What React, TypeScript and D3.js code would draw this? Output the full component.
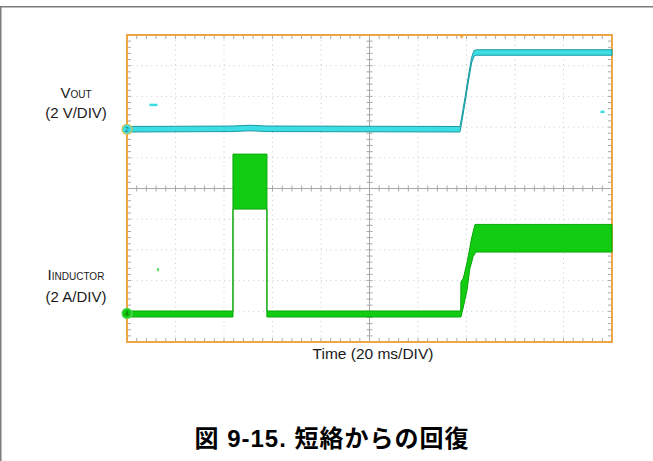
import React from "react";
import * as d3 from "d3";

// Oscilloscope capture: output voltage and inductor current recovering from a short
const W = 653;
const H = 461;

// Time base: 10 divisions of 20 ms
const timeSpanMs = [0, 200];
const divisionsX = 10;
const divisionsY = 10;

// Channel 2: VOUT (2 V/DIV), centre of the trace and ripple half-width
const voutTime = [0, 43.7, 50.7, 57.7, 137.3, 138.0, 139.4, 140.7, 142.1, 143.1, 144.2, 200];
const voutVolts = [0, 0.03, 0.08, 0.03, 0, 0.6, 1.9, 3.2, 4.5, 4.95, 5.0, 5.0];
const voutRipple = 0.18;
const voutVoltsPerDiv = 2;
const voutGroundDiv = 6.93;

// Channel 4: inductor current (2 A/DIV), lower and upper envelope
const iTime = [0, 43.7, 43.7, 57.7, 57.7, 137.6, 137.7, 138.7, 140.2, 141.4, 141.9, 142.7, 143.5, 144.0, 200];
const iLow = [-0.23, -0.23, 6.8, 6.8, -0.23, -0.23, -0.23, 0.42, 1.5, 2.95, 3.2, 3.7, 3.9, 4.0, 4.0];
const iHigh = [0.16, 0.16, 10.38, 10.38, 0.16, 0.16, 2.05, 2.3, 3.3, 4.3, 4.75, 5.3, 5.8, 5.8, 5.8];
const iAmpsPerDiv = 2;
const iGroundDiv = 0.93;

// Stray display dots left on screen by the scope: [time ms, volts / amps]
const voutSpecks = [[10.5, 1.6], [196.5, 1.15]];
const iSpecks = [[12.8, 2.85]];

const triggerMs = 138;

const timeLabel = "Time (20 ms/DIV)";
const titleText = "図 9-15. 短絡からの回復";

const plot = { left: 127, right: 612, top: 35, bottom: 342 };

const CYAN = "#3cdde4";
const CYAN_EDGE = "#1a9aa3";
const GREEN = "#12cc12";
const GREEN_EDGE = "#07a707";
const ORANGE = "#eda545";

export default function App() {
  const x = d3.scaleLinear().domain(timeSpanMs).range([plot.left, plot.right]);
  const xDiv = d3.scaleLinear().domain([0, divisionsX]).range([plot.left, plot.right]);
  const yDiv = d3.scaleLinear().domain([0, divisionsY]).range([plot.bottom, plot.top]);
  const yV = (v: number) => yDiv(voutGroundDiv + v / voutVoltsPerDiv);
  const yI = (a: number) => yDiv(iGroundDiv + a / iAmpsPerDiv);

  const voutArea = d3
    .area<number>()
    .x((i) => x(voutTime[i]))
    .y0((i) => yV(voutVolts[i] - voutRipple))
    .y1((i) => yV(voutVolts[i] + voutRipple))(d3.range(voutTime.length)) as string;

  const iArea = d3
    .area<number>()
    .x((i) => x(iTime[i]))
    .y0((i) => yI(iLow[i]))
    .y1((i) => yI(iHigh[i]))(d3.range(iTime.length)) as string;

  const majorX = d3.range(1, divisionsX).filter((d) => d !== divisionsX / 2);
  const majorY = d3.range(1, divisionsY).filter((d) => d !== divisionsY / 2);
  const minorX = d3.range(1, divisionsX * 5).map((d) => d / 5);
  const minorY = d3.range(1, divisionsY * 5).map((d) => d / 5);
  const cx = xDiv(divisionsX / 2);
  const cy = yDiv(divisionsY / 2);

  const font = "'Liberation Sans', Arial, sans-serif";

  return (
    <div style={{ position: "fixed", left: 0, top: 0 }}>
      <svg width={W} height={H} viewBox={`0 0 ${W} ${H}`} style={{ display: "block", background: "#fff" }}>
        {/* page frame */}
        <rect x={0.75} y={6.75} width={W + 10} height={H + 10} fill="none" stroke="#7d7d7d" strokeWidth={1.5} />

        {/* dotted division grid */}
        <g stroke="#cacaca" strokeWidth={1} strokeDasharray="1 3.85">
          {majorX.map((d) => (
            <line key={`gx${d}`} x1={xDiv(d)} x2={xDiv(d)} y1={plot.top} y2={plot.bottom} />
          ))}
          {majorY.map((d) => (
            <line key={`gy${d}`} y1={yDiv(d)} y2={yDiv(d)} x1={plot.left} x2={plot.right} />
          ))}
        </g>

        {/* centre axes with minor ticks */}
        <g stroke="#a8a8a8" strokeWidth={1}>
          <line x1={cx} x2={cx} y1={plot.top} y2={plot.bottom} />
          <line y1={cy} y2={cy} x1={plot.left} x2={plot.right} />
          {minorX.map((d) => (
            <line key={`tcx${d}`} x1={xDiv(d)} x2={xDiv(d)} y1={cy - 3} y2={cy + 3} />
          ))}
          {minorY.map((d) => (
            <line key={`tcy${d}`} y1={yDiv(d)} y2={yDiv(d)} x1={cx - 3} x2={cx + 3} />
          ))}
          {minorX.map((d) => (
            <line key={`ttb${d}`} x1={xDiv(d)} x2={xDiv(d)} y1={plot.top} y2={plot.top + 4} />
          ))}
          {minorX.map((d) => (
            <line key={`tbb${d}`} x1={xDiv(d)} x2={xDiv(d)} y1={plot.bottom - 4} y2={plot.bottom} />
          ))}
          {minorY.map((d) => (
            <line key={`tlb${d}`} y1={yDiv(d)} y2={yDiv(d)} x1={plot.left} x2={plot.left + 4} />
          ))}
          {minorY.map((d) => (
            <line key={`trb${d}`} y1={yDiv(d)} y2={yDiv(d)} x1={plot.right - 4} x2={plot.right} />
          ))}
        </g>

        {/* graticule border */}
        <rect
          x={plot.left}
          y={plot.top}
          width={plot.right - plot.left}
          height={plot.bottom - plot.top}
          fill="none"
          stroke={ORANGE}
          strokeWidth={2}
        />

        {/* traces */}
        <path d={iArea} fill={GREEN} stroke={GREEN_EDGE} strokeWidth={1} strokeLinejoin="round" />
        <path d={voutArea} fill={CYAN} stroke={CYAN_EDGE} strokeWidth={1} strokeLinejoin="round" />

        {/* stray dots */}
        {voutSpecks.map(([t, v], k) => (
          <rect key={`vs${k}`} x={x(t) - 3} y={yV(v) - 1} width={k === 0 ? 8 : 4} height={2.5} fill={CYAN} />
        ))}
        {iSpecks.map(([t, a], k) => (
          <rect key={`is${k}`} x={x(t) - 1} y={yI(a) - 1.5} width={2} height={3} fill={GREEN} opacity={0.7} />
        ))}

        {/* trigger position */}
        <path
          d={`M${x(triggerMs) - 3},${plot.top - 1} L${x(triggerMs) + 3},${plot.top - 1} L${x(triggerMs)},${plot.top + 4} Z`}
          fill={ORANGE}
        />

        {/* channel ground markers */}
        <g>
          <circle cx={plot.left} cy={yV(0)} r={5} fill={CYAN} stroke="#d9c24a" strokeWidth={1.2} />
          <text x={plot.left} y={yV(0) + 2.5} fontSize={7} textAnchor="middle" fill="#1a6f75" fontFamily={font}>
            2
          </text>
          <circle cx={plot.left} cy={yI(0)} r={5} fill={GREEN} stroke="#58d858" strokeWidth={1.2} />
          <text x={plot.left} y={yI(0) + 2.5} fontSize={7} textAnchor="middle" fill="#0a6a0a" fontFamily={font}>
            4
          </text>
        </g>

        {/* channel labels */}
        <g fontFamily={font} fill="#1a1a1a" textAnchor="middle">
          <text x={76} y={97.5} fontSize={15}>
            V<tspan fontSize={10}>OUT</tspan>
          </text>
          <text x={76} y={118} fontSize={15}>
            (2 V/DIV)
          </text>
          <text x={76} y={280} fontSize={15}>
            I<tspan fontSize={10}>INDUCTOR</tspan>
          </text>
          <text x={76} y={301.5} fontSize={15}>
            (2 A/DIV)
          </text>
          <text x={373} y={358.5} fontSize={15.5}>
            {timeLabel}
          </text>
        </g>

        {/* figure caption */}
        <text
          x={332}
          y={447}
          textAnchor="middle"
          fontSize={24}
          letterSpacing={1}
          fontWeight="bold"
          fill="#000"
          fontFamily="'Liberation Sans', 'Noto Sans CJK JP', sans-serif"
        >
          {titleText}
        </text>
      </svg>
    </div>
  );
}
